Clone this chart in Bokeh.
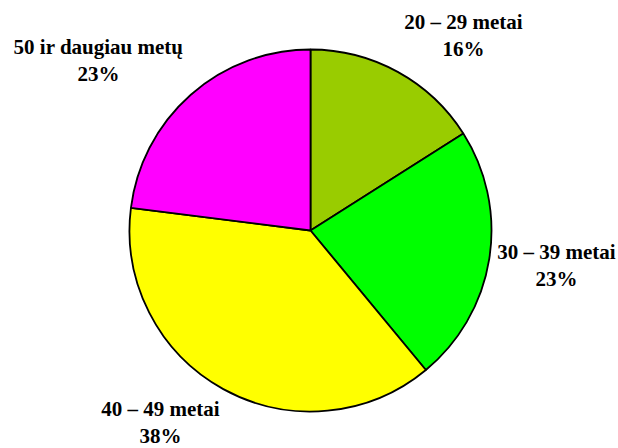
import math
from bokeh.plotting import figure
from bokeh.models import Range1d, ColumnDataSource
from bokeh.core.properties import value
from bokeh.embed import file_html
from bokeh.resources import INLINE

categories = ["20 – 29 metai", "30 – 39 metai", "40 – 49 metai", "50 ir daugiau metų"]
shares = [16, 23, 38, 23]
colors = ["#99CC00", "#00FF00", "#FFFF00", "#FF00FF"]

# layout (pixels from the top-left corner of the figure)
W, H = 618, 448
cx, cy, R = 310, 230, 181
label_x = [463, 556, 160, 98]
label_y = [21, 251, 408, 46]
line_gap = 27

total = float(sum(shares))
starts, ends = [], []
cum = 0.0
for v in shares:
    end = math.pi / 2 - 2 * math.pi * cum / total
    cum += v
    start = math.pi / 2 - 2 * math.pi * cum / total
    starts.append(start)
    ends.append(end)

src = ColumnDataSource(dict(start=starts, end=ends, color=colors,
                            x=[cx] * len(shares), y=[H - cy] * len(shares)))

p = figure(width=W, height=H, output_backend="svg", toolbar_location=None,
           x_range=Range1d(0, W), y_range=Range1d(0, H), min_border=0)
p.axis.visible = False
p.grid.visible = False
p.outline_line_color = None

p.wedge(x="x", y="y", radius=R, start_angle="start", end_angle="end",
        direction="anticlock", fill_color="color", line_color="black",
        line_width=1.8, source=src)

ly_top = [H - y for y in label_y]
ly_bot = [H - y - line_gap for y in label_y]
pct = [f"{v}%" for v in shares]
for texts, ys in ((categories, ly_top), (pct, ly_bot)):
    p.text(x=label_x, y=ys, text=texts,
           text_font=value("Liberation Serif"),
           text_font_style="bold", text_font_size="21px", text_align="center",
           text_baseline="middle", text_color="black")

open("out.html", "w").write(file_html(p, INLINE))
